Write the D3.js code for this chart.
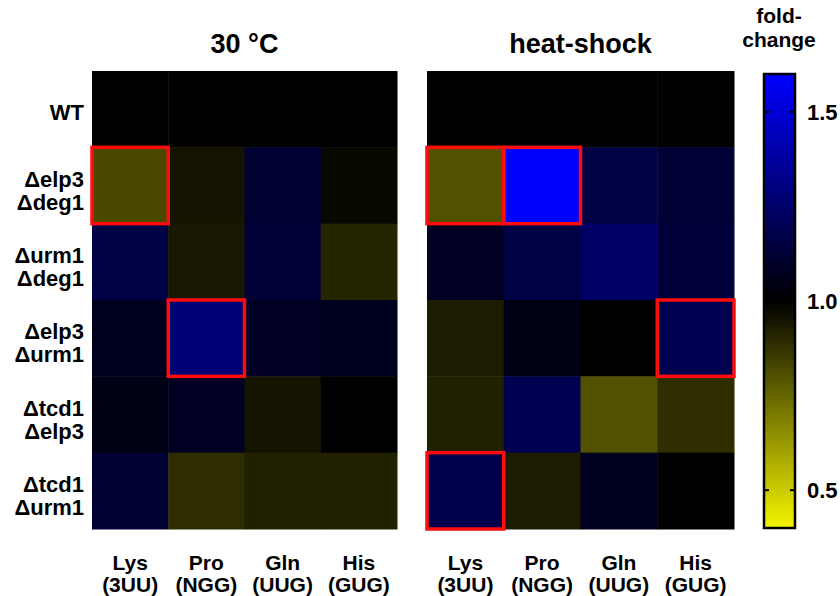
<!DOCTYPE html>
<html>
<head>
<meta charset="utf-8">
<script src="https://cdn.jsdelivr.net/npm/d3@7"></script>
<style>
  html, body { margin: 0; padding: 0; background: #fff; }
  svg { display: block; font-family: "Liberation Sans", Arial, Helvetica, sans-serif; font-weight: bold; }
</style>
</head>
<body>
<svg id="chart" width="840" height="596"></svg>
<script>
// Strains (rows, two-line labels) and tRNA codons (columns)
const strains = [["WT"], ["\u0394elp3", "\u0394deg1"], ["\u0394urm1", "\u0394deg1"],
                 ["\u0394elp3", "\u0394urm1"], ["\u0394tcd1", "\u0394elp3"], ["\u0394tcd1", "\u0394urm1"]];
const codons = [["Lys", "(3UU)"], ["Pro", "(NGG)"], ["Gln", "(UUG)"], ["His", "(GUG)"]];
const conditions = ["30 \u00B0C", "heat-shock"];

// Fold-change values, one row per strain, one column per codon
const fold30 = [
  [1.00, 1.00, 1.00, 1.00],
  [0.82, 0.95, 1.12, 0.98],
  [1.16, 0.94, 1.13, 0.91],
  [1.07, 1.28, 1.09, 1.07],
  [1.05, 1.08, 0.95, 1.00],
  [1.12, 0.89, 0.92, 0.92]
];
const foldHeat = [
  [1.00, 1.00, 1.00, 1.00],
  [0.80, 1.60, 1.16, 1.13],
  [1.08, 1.16, 1.24, 1.14],
  [0.93, 1.05, 1.00, 1.19],
  [0.92, 1.19, 0.80, 0.89],
  [1.18, 0.93, 1.07, 1.00]
];
// Significant cells, as [row, column]
const sig30 = [[1, 0], [3, 1]];
const sigHeat = [[1, 0], [1, 1], [3, 3], [5, 0]];

const legendTicks = [0.5, 1.0, 1.5];
const legendDomain = [0.4, 1.6];

const svg = d3.select("#chart");
const color = d3.scaleLinear()
  .domain([0.4, 1.0, 1.6])
  .range(["#f4f400", "#000000", "#0000ff"])
  .clamp(true);

const y = d3.scaleBand().domain(d3.range(strains.length)).range([71, 529]);
const panels = [
  { title: conditions[0], data: fold30, sig: sig30, x0: 92, x1: 397 },
  { title: conditions[1], data: foldHeat, sig: sigHeat, x0: 427, x1: 734 }
];

panels.forEach((p, pi) => {
  const x = d3.scaleBand().domain(d3.range(codons.length)).range([p.x0, p.x1]);
  const g = svg.append("g");

  const cells = p.data.flatMap((row, r) => row.map((v, c) => ({ r, c, v })));
  g.selectAll("rect.cell").data(cells).join("rect")
    .attr("class", "cell")
    .attr("x", d => x(d.c))
    .attr("y", d => y(d.r))
    .attr("width", x.bandwidth() + 0.5)
    .attr("height", y.bandwidth() + 0.5)
    .attr("fill", d => color(d.v));

  g.selectAll("rect.sig").data(p.sig).join("rect")
    .attr("class", "sig")
    .attr("x", d => x(d[1]))
    .attr("y", d => y(d[0]))
    .attr("width", x.bandwidth())
    .attr("height", y.bandwidth())
    .attr("fill", "none")
    .attr("stroke", "#ff0d0d")
    .attr("stroke-width", 3.5);

  g.append("text")
    .attr("x", (p.x0 + p.x1) / 2)
    .attr("y", 53)
    .attr("text-anchor", "middle")
    .attr("font-size", 27)
    .text(p.title);

  const cl = g.selectAll("text.col").data(codons).join("text")
    .attr("class", "col")
    .attr("text-anchor", "middle")
    .attr("font-size", 21);
  cl.append("tspan").attr("x", (d, i) => x(i) + x.bandwidth() / 2).attr("y", 570).text(d => d[0]);
  cl.append("tspan").attr("x", (d, i) => x(i) + x.bandwidth() / 2).attr("y", 592).text(d => d[1]);

  if (pi === 0) {
    const rl = g.selectAll("text.row").data(strains).join("text")
      .attr("class", "row")
      .attr("text-anchor", "end")
      .attr("font-size", 22);
    rl.each(function (d, i) {
      const cy = y(i) + y.bandwidth() / 2;
      const t = d3.select(this);
      if (d.length === 1) {
        t.append("tspan").attr("x", 84).attr("y", cy + 11).text(d[0]);
      } else {
        t.append("tspan").attr("x", 84).attr("y", cy + 1).text(d[0]);
        t.append("tspan").attr("x", 84).attr("y", cy + 24).text(d[1]);
      }
    });
  }
});

// Colour bar
const lx0 = 764, lx1 = 795, ly0 = 74, ly1 = 528;
const ly = d3.scaleLinear().domain(legendDomain).range([ly1, ly0]);
const defs = svg.append("defs");
const grad = defs.append("linearGradient")
  .attr("id", "foldGrad").attr("x1", 0).attr("y1", 1).attr("x2", 0).attr("y2", 0);
d3.range(0, 1.0001, 0.05).forEach(t => {
  const v = legendDomain[0] + t * (legendDomain[1] - legendDomain[0]);
  grad.append("stop").attr("offset", t).attr("stop-color", color(v));
});
svg.append("rect")
  .attr("x", lx0).attr("y", ly0)
  .attr("width", lx1 - lx0).attr("height", ly1 - ly0)
  .attr("fill", "url(#foldGrad)")
  .attr("stroke", "#000").attr("stroke-width", 2.5);

const lt = svg.append("g");
legendTicks.forEach(t => {
  lt.append("line").attr("x1", lx0).attr("x2", lx0 + 5)
    .attr("y1", ly(t)).attr("y2", ly(t)).attr("stroke", "#000").attr("stroke-width", 2);
  lt.append("line").attr("x1", lx1 - 5).attr("x2", lx1)
    .attr("y1", ly(t)).attr("y2", ly(t)).attr("stroke", "#000").attr("stroke-width", 2);
  lt.append("text").attr("x", 807).attr("y", ly(t)).attr("dy", "0.36em")
    .attr("font-size", 22).text(d3.format(".1f")(t));
});

const lg = svg.append("text").attr("text-anchor", "middle").attr("font-size", 21);
lg.append("tspan").attr("x", 779).attr("y", 23).text("fold-");
lg.append("tspan").attr("x", 779).attr("y", 47).text("change");
</script>
</body>
</html>
